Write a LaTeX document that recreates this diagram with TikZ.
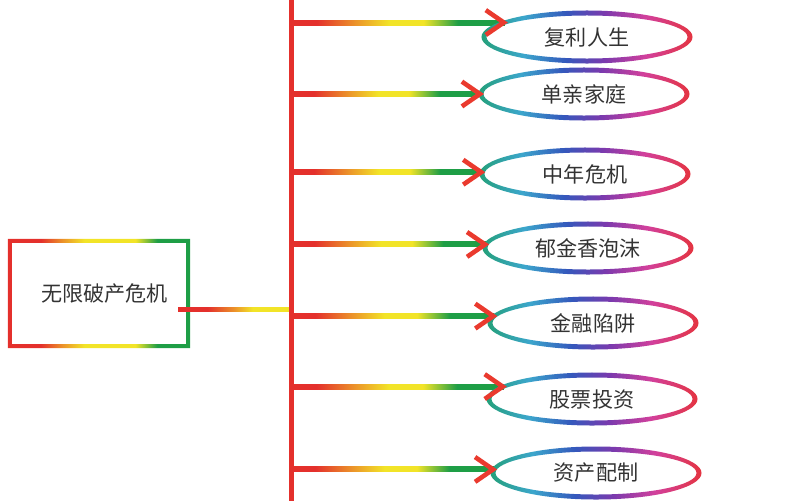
\documentclass[tikz,border=0pt]{standalone}
\usepackage{fontspec}
\newfontfamily\cjk{Noto Sans CJK SC}
\usetikzlibrary{calc, arrows.meta, shapes.geometric}

\definecolor{hotred}{HTML}{E4302C}
\definecolor{sunyellow}{HTML}{F2E428}
\definecolor{leafgreen}{HTML}{1E9E46}
\definecolor{ringteal}{HTML}{24A07A}
\definecolor{ringcyan}{HTML}{3CA6CC}
\definecolor{ringblue}{HTML}{3458BC}
\definecolor{ringpurple}{HTML}{7A3AAE}
\definecolor{ringmagenta}{HTML}{D2409C}
\definecolor{ringred}{HTML}{E43440}
\definecolor{tipred}{HTML}{EA3A2E}
\definecolor{inkgray}{HTML}{333333}

% bbox of a shaded path is mapped to 25bp..75bp
\pgfdeclarehorizontalshading{warmbar}{100bp}{color(0bp)=(hotred); color(31bp)=(hotred);
  color(40bp)=(sunyellow!55!hotred); color(48bp)=(sunyellow); color(56bp)=(sunyellow);
  color(60bp)=(sunyellow!50!leafgreen); color(64bp)=(leafgreen); color(100bp)=(leafgreen)}
\pgfdeclarehorizontalshading{warmbox}{100bp}{color(0bp)=(hotred); color(34bp)=(hotred);
  color(40bp)=(sunyellow!55!hotred); color(46bp)=(sunyellow); color(60bp)=(sunyellow);
  color(66bp)=(leafgreen); color(100bp)=(leafgreen)}
\pgfdeclarehorizontalshading{tailbar}{100bp}{color(0bp)=(hotred); color(38bp)=(hotred);
  color(50bp)=(sunyellow!55!hotred); color(58bp)=(sunyellow); color(100bp)=(sunyellow)}
\pgfdeclarehorizontalshading{coolring}{100bp}{color(0bp)=(ringteal); color(25bp)=(ringteal);
  color(35bp)=(ringcyan); color(45bp)=(ringblue); color(54bp)=(ringpurple);
  color(64bp)=(ringmagenta); color(75bp)=(ringred); color(100bp)=(ringred)}

\tikzset{
  bubble/.style={ellipse, minimum width=5.15cm, minimum height=1.2cm,
    inner sep=0pt, outer sep=0pt, text=inkgray, font=\cjk\fontsize{15}{18}\selectfont},
  crisisbox/.style={rectangle, minimum width=4.45cm, minimum height=2.625cm,
    inner sep=0pt, outer sep=0pt, text=inkgray, font=\cjk\fontsize{15}{18}\selectfont},
  spineline/.style={draw=hotred, line width=0.125cm},
  barbtip/.style={draw=tipred, line width=0.115cm, line join=round,
    -{Straight Barb[length=0.45cm, width=0.62cm]}},
}

\begin{document}
\begin{tikzpicture}[x=0.025cm, y=-0.025cm]
  \useasboundingbox (0,0) rectangle (800,500);

  \node [crisisbox] (crisis) at (99,293.5) {\hspace{8pt}无限破产危机};

  \node [bubble] (compound) at (587,37)  {复利人生};
  \node [bubble] (single)   at (584,94)  {单亲家庭};
  \node [bubble] (midlife)  at (585,174) {中年危机};
  \node [bubble] (tulip)    at (588,248) {郁金香泡沫};
  \node [bubble] (trap)     at (593,323) {金融陷阱};
  \node [bubble] (stock)    at (592,399) {股票投资};
  \node [bubble] (assets)   at (596,473) {资产配制};

  \coordinate (spinetop) at (291,-5);
  \coordinate (spinebot) at (291,505);
  \coordinate (hub) at (291,309);
  \coordinate (tail) at ($(hub -| crisis.east)+(-10,0)$);

  % box outline, red -> yellow -> green
  \shade [shading=warmbox, even odd rule]
    ($(crisis.south west)+(-2,2)$) rectangle ($(crisis.north east)+(2,-2)$)
    ($(crisis.south west)+(2,-2)$) rectangle ($(crisis.north east)+(-2,2)$);
  \shade [shading=tailbar] ($(tail)+(0,-2)$) rectangle ($(hub)+(0,2)$);

  % branches
  \foreach \n/\a in {compound/170, single/180, midlife/179, tulip/178,
                     trap/176, stock/172, assets/178} {
    \coordinate (tip-\n) at (\n.\a);
    \coordinate (root-\n) at (tip-\n -| spinetop);
    \shade [shading=warmbar] ($(root-\n)+(0,-2.5)$) rectangle ($(tip-\n)+(0,2.5)$);
  }

  \draw [spineline] (spinetop) -- (spinebot);

  \foreach \n in {compound, single, midlife, tulip, trap, stock, assets} {
    \shade [shading=coolring, even odd rule]
      (\n.center) ellipse [x radius=2.6375cm, y radius=0.6625cm]
      (\n.center) ellipse [x radius=2.5125cm, y radius=0.5375cm];
    \draw [barbtip] ($(tip-\n)+(-1,0)$) -- ($(tip-\n)+(3,0)$);
  }
\end{tikzpicture}
\end{document}
